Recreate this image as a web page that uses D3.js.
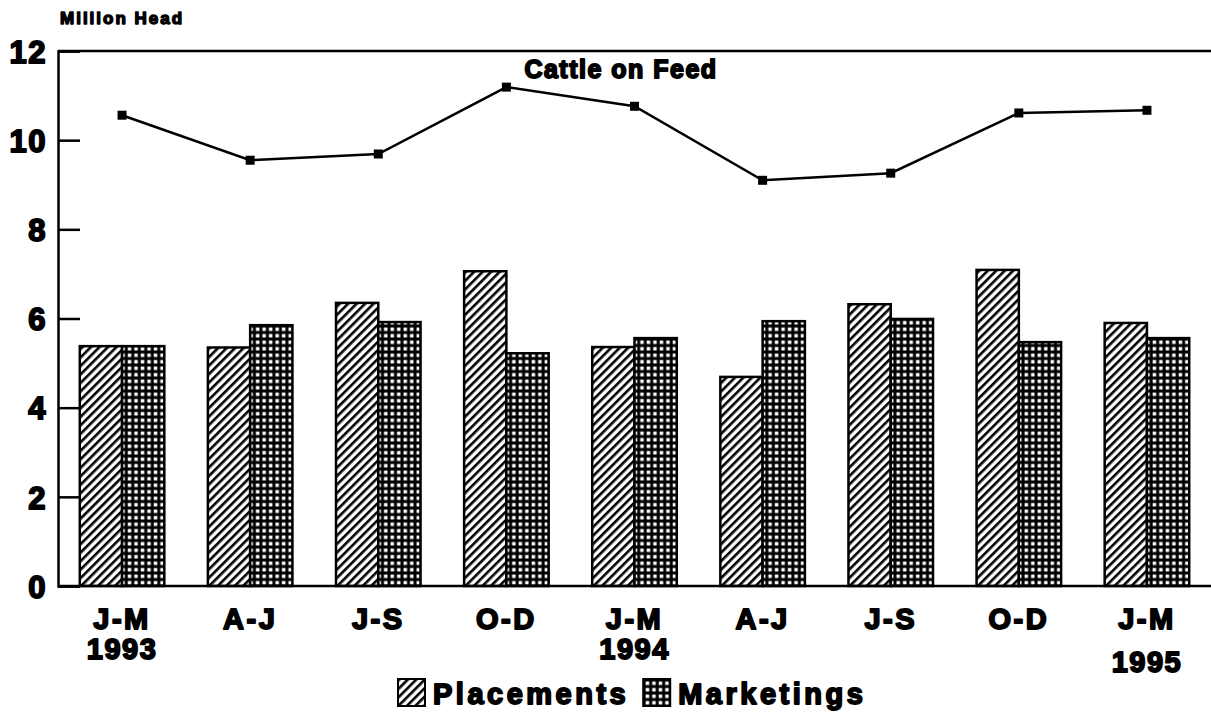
<!DOCTYPE html>
<html>
<head>
<meta charset="utf-8">
<script src="https://cdn.jsdelivr.net/npm/d3@7"></script>
<style>
  body { margin: 0; background: #fff; }
  text { font-family: 'Liberation Sans', Arial, sans-serif; font-weight: bold; fill: #000; stroke: #000; stroke-width: 1.8px; stroke-linejoin: round; }
</style>
</head>
<body>
<svg id="chart"></svg>
<script>
// quarters and their year labels
const quarters = ['J-M', 'A-J', 'J-S', 'O-D', 'J-M', 'A-J', 'J-S', 'O-D', 'J-M']
const years = ['1993', '', '', '', '1994', '', '', '', '1995']
// million head
const placements = [5.38, 5.35, 6.35, 7.06, 5.36, 4.69, 6.32, 7.09, 5.90]
const marketings = [5.38, 5.85, 5.92, 5.22, 5.56, 5.94, 5.99, 5.47, 5.56]
const cattleOnFeed = [10.56, 9.55, 9.69, 11.19, 10.76, 9.10, 9.26, 10.61, 10.67]
const yTicks = [0, 2, 4, 6, 8, 10, 12]

const W = 1211, H = 722
const margin = {top: 51, right: 0, bottom: 136, left: 58}

const svg = d3.select('#chart').attr('width', W).attr('height', H)

// patterns for the two bar series
const defs = svg.append('defs')
const hatch = defs.append('pattern').attr('id', 'hatch')
  .attr('patternUnits', 'userSpaceOnUse').attr('width', 6).attr('height', 6)
  .attr('patternTransform', 'rotate(45)')
hatch.append('rect').attr('width', 6).attr('height', 6).attr('fill', '#fff')
hatch.append('rect').attr('x', 0).attr('y', 0).attr('width', 2.6).attr('height', 6)
  .attr('fill', '#000')

const grid = defs.append('pattern').attr('id', 'grid')
  .attr('patternUnits', 'userSpaceOnUse').attr('width', 6.5).attr('height', 6.5)
grid.append('rect').attr('width', 6.5).attr('height', 6.5).attr('fill', '#000')
grid.append('rect').attr('x', 2.5).attr('y', 2.5).attr('width', 3.5).attr('height', 3.5).attr('fill', '#fff')

const x = d3.scaleBand().domain(d3.range(quarters.length))
  .range([margin.left, W - margin.right]).paddingInner(0.34).paddingOuter(0.17)
const xs = d3.scaleBand().domain(['p', 'm']).range([0, x.bandwidth()])
const y = d3.scaleLinear().domain([0, 12]).range([H - margin.bottom, margin.top])

const g = svg.append('g')

// bars
const groups = g.selectAll('g.grp').data(d3.range(quarters.length)).join('g')
  .attr('class', 'grp')
  .attr('transform', (i) => `translate(${x(i)},0)`)

groups.append('rect')
  .attr('x', xs('p')).attr('width', xs.bandwidth())
  .attr('y', (i) => y(placements[i])).attr('height', (i) => y(0) - y(placements[i]))
  .attr('fill', 'url(#hatch)').attr('stroke', '#000').attr('stroke-width', 2.5)

groups.append('rect')
  .attr('x', xs('m')).attr('width', xs.bandwidth())
  .attr('y', (i) => y(marketings[i])).attr('height', (i) => y(0) - y(marketings[i]))
  .attr('fill', 'url(#grid)').attr('stroke', '#000').attr('stroke-width', 2.5)

// frame: top line and baseline
g.append('line').attr('x1', margin.left).attr('x2', W).attr('y1', y(12)).attr('y2', y(12))
  .attr('stroke', '#000').attr('stroke-width', 2.5)
g.append('line').attr('x1', margin.left).attr('x2', W).attr('y1', y(0)).attr('y2', y(0))
  .attr('stroke', '#000').attr('stroke-width', 2.5)

const yAxis = d3.axisLeft(y).tickValues(yTicks).tickSize(-22).tickPadding(11).tickFormat(d3.format('d'))
const gy = g.append('g').attr('transform', `translate(${margin.left},0)`).call(yAxis)
gy.select('.domain').attr('stroke-width', 2.5)
gy.selectAll('.tick line').attr('stroke-width', 2.5)
gy.selectAll('.tick text').attr('font-size', 31).attr('letter-spacing', 1.5)
  .attr('dy', '0.36em').attr('font-family', null)

// x labels
const xl = g.selectAll('g.xl').data(d3.range(quarters.length)).join('g')
  .attr('transform', (i) => `translate(${x(i) + x.bandwidth() / 2},0)`)
xl.append('text').attr('text-anchor', 'middle').attr('y', 629).attr('font-size', 29)
  .attr('letter-spacing', 2.5).text((i) => quarters[i])
xl.append('text').attr('text-anchor', 'middle')
  .attr('y', (i) => i === quarters.length - 1 ? 672 : 659).attr('font-size', 29)
  .attr('letter-spacing', 1.5).text((i) => years[i])

// cattle on feed line
const line = d3.line().x((d, i) => x(i) + x.bandwidth() / 2).y((d) => y(d))
g.append('path').datum(cattleOnFeed).attr('d', line)
  .attr('fill', 'none').attr('stroke', '#000').attr('stroke-width', 2.5)
g.selectAll('rect.pt').data(cattleOnFeed).join('rect').attr('class', 'pt')
  .attr('x', (d, i) => x(i) + x.bandwidth() / 2 - 4.5).attr('y', (d) => y(d) - 4.5)
  .attr('width', 9).attr('height', 9).attr('fill', '#000')

g.append('text').attr('x', 621).attr('y', 78).attr('text-anchor', 'middle')
  .attr('font-size', 25).attr('letter-spacing', 1.5).text('Cattle on Feed')

// unit label
svg.append('text').attr('x', 60).attr('y', 24).attr('font-size', 17)
  .attr('letter-spacing', 2).style('stroke-width', '1.4px').text('Million Head')

// legend
const legend = svg.append('g').attr('transform', 'translate(398,679)')
const items = [{name: 'Placements', fill: 'url(#hatch)'}, {name: 'Marketings', fill: 'url(#grid)'}]
let lx = 0
items.forEach((it) => {
  const li = legend.append('g').attr('transform', `translate(${lx},0)`)
  li.append('rect').attr('width', 27).attr('height', 27).attr('fill', it.fill)
    .attr('stroke', '#000').attr('stroke-width', 2)
  const t = li.append('text').attr('x', 35).attr('y', 25).attr('font-size', 29)
    .attr('letter-spacing', 3.5).text(it.name)
  lx += 35 + t.node().getComputedTextLength() + 14
})
</script>
</body>
</html>
